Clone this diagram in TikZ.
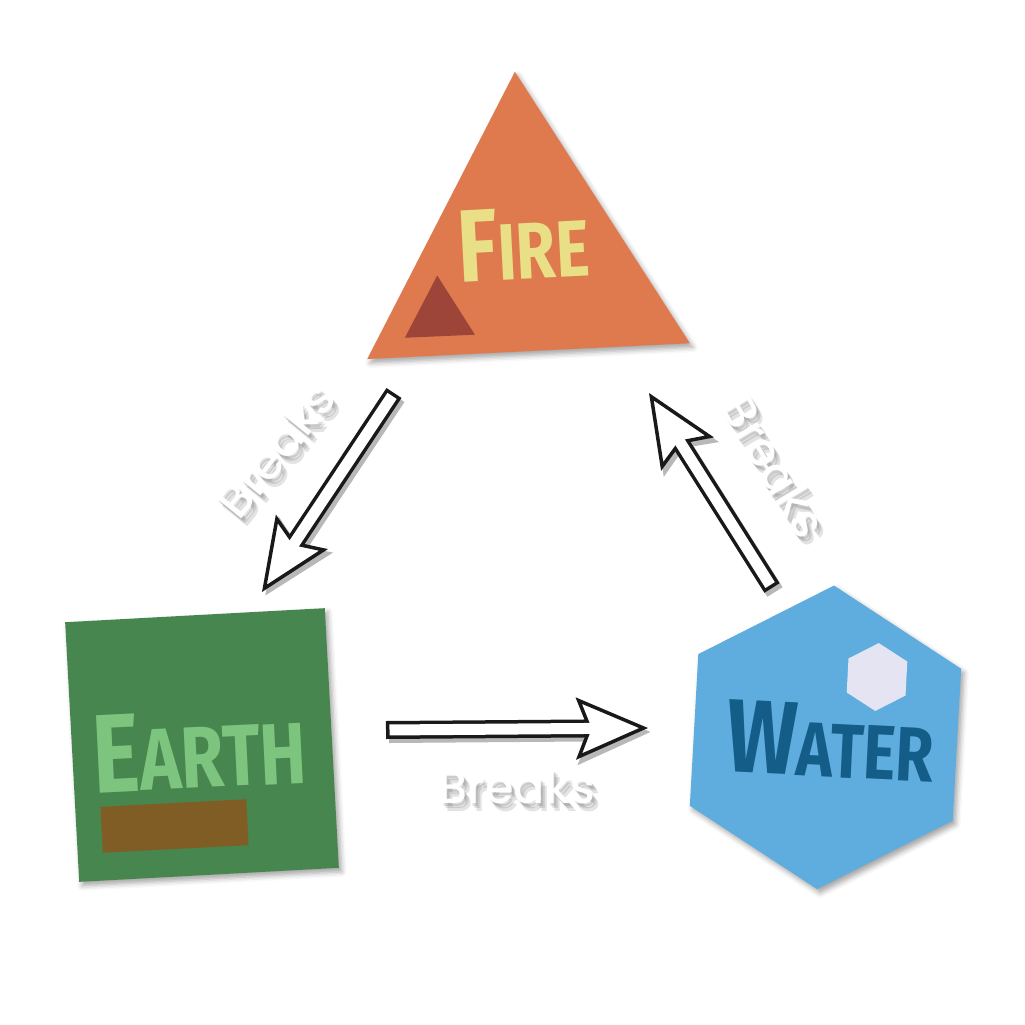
\documentclass[tikz,border=0pt]{standalone}
\usepackage{fontspec}
\setmainfont{Poppins}
\newfontfamily\breakfont{Poppins}[UprightFont=* Medium]
\newfontfamily\titlefont{Fira Sans}[FakeStretch=0.8]
\usetikzlibrary{shapes.geometric, arrows.meta, shadows.blur}

\definecolor{fireorange}{RGB}{223,122,79}
\definecolor{firedark}{RGB}{156,69,56}
\definecolor{fireyellow}{RGB}{232,223,134}
\definecolor{earthgreen}{RGB}{71,135,79}
\definecolor{earthlight}{RGB}{125,197,126}
\definecolor{earthbrown}{RGB}{129,93,38}
\definecolor{waterblue}{RGB}{95,173,223}
\definecolor{waterdark}{RGB}{21,93,137}
\definecolor{waterwhite}{RGB}{228,228,242}

\begin{document}
\begin{tikzpicture}[
        x=1pt, y=-1pt,
        element/.style={draw=none, inner sep=0pt, outer sep=0pt, blur shadow={shadow xshift=3pt, shadow yshift=-4pt, shadow blur radius=5pt, shadow opacity=35}},
        badge/.style={draw=none, inner sep=0pt, outer sep=0pt},
        tri/.style={regular polygon, regular polygon sides=3},
        hex/.style={regular polygon, regular polygon sides=6},
        title/.style={font=\titlefont\bfseries, inner sep=0pt, anchor=base},
        break_label/.style={font=\breakfont\fontsize{46}{46}\selectfont, text=white, inner sep=0pt},
        break_shadow/.style={font=\breakfont\fontsize{46}{46}\selectfont, text=black, text opacity=0.11, inner sep=0pt},
        arrow_shadow/.style={black!28, line width=18pt, -{Stealth[length=72pt, width=62pt, inset=12pt]}, transform canvas={xshift=3pt, yshift=-4pt}},
        arrow_outline/.style={black!90, line width=18pt, -{Stealth[length=72pt, width=62pt, inset=12pt, fill=white, line width=3.5pt]}},
        arrow_inner/.style={white, line width=11pt, shorten <=3.5pt, shorten >=52pt}
    ]
        \useasboundingbox (0,0) rectangle (1025,1025);

        % elements
        \node[element, tri, fill=fireorange, minimum size=373pt, rotate=2.8] (fire) at (524,258) {};
        \node[element, fill=earthgreen, minimum width=260pt, minimum height=260pt, rotate=3.1] (earth) at (202,745) {};
        \node[element, hex, fill=waterblue, minimum size=304pt, rotate=26.8] (water) at (825.5,737.3) {};

        % small marks
        \node[badge, tri, fill=firedark, minimum size=81pt, rotate=2.5] (firemark) at (439,316) {};
        \node[badge, fill=earthbrown, minimum width=146pt, minimum height=46pt, rotate=3] (earthmark) at (174.5,826) {};
        \node[badge, hex, fill=waterwhite, minimum size=68pt, rotate=27] (watermark) at (877,677) {};

        % titles
        \node[title, text=fireyellow, rotate=3] (firetext) at (525,279) {\fontsize{103}{103}\selectfont F\fontsize{80}{80}\selectfont IRE};
        \node[title, text=earthlight, rotate=2.8] (earthtext) at (201.5,788) {\fontsize{112}{112}\selectfont E\fontsize{87}{87}\selectfont ARTH};
        \node[title, text=waterdark, rotate=-2.8] (watertext) at (829,777) {\fontsize{104}{104}\selectfont W\fontsize{77}{77}\selectfont ATER};

        % arrow ends
        \coordinate (fireout) at (394,393);
        \coordinate (earthin) at (262,592);
        \coordinate (earthout) at (386,730);
        \coordinate (waterin) at (648,728);
        \coordinate (waterout) at (772,588);
        \coordinate (firein) at (649,393);

        \draw[arrow_shadow] (fireout) -- (earthin);
        \draw[arrow_shadow] (earthout) -- (waterin);
        \draw[arrow_shadow] (waterout) -- (firein);
        \draw[arrow_outline] (fireout) -- (earthin);
        \draw[arrow_outline] (earthout) -- (waterin);
        \draw[arrow_outline] (waterout) -- (firein);
        \draw[arrow_inner] (fireout) -- (earthin);
        \draw[arrow_inner] (earthout) -- (waterin);
        \draw[arrow_inner] (waterout) -- (firein);

        % labels
        \node[break_shadow, rotate=51] (fe_shadow_a) at (278,453) {Breaks};
        \node[break_shadow, rotate=51] (fe_shadow_b) at (280,455) {Breaks};
        \node[break_shadow, rotate=51] (fe_shadow_c) at (282,458) {Breaks};
        \node[break_label, rotate=51] (fe_label) at (276,450) {Breaks};
        \node[break_shadow, anchor=base] (ew_shadow_a) at (519,806) {Breaks};
        \node[break_shadow, anchor=base] (ew_shadow_b) at (521,808) {Breaks};
        \node[break_shadow, anchor=base] (ew_shadow_c) at (523,811) {Breaks};
        \node[break_label, anchor=base] (ew_label) at (517,803) {Breaks};
        \node[break_shadow, rotate=-59] (wf_shadow_a) at (776,469) {Breaks};
        \node[break_shadow, rotate=-59] (wf_shadow_b) at (778,471) {Breaks};
        \node[break_shadow, rotate=-59] (wf_shadow_c) at (780,474) {Breaks};
        \node[break_label, rotate=-59] (wf_label) at (774,466) {Breaks};

    \end{tikzpicture}
\end{document}
